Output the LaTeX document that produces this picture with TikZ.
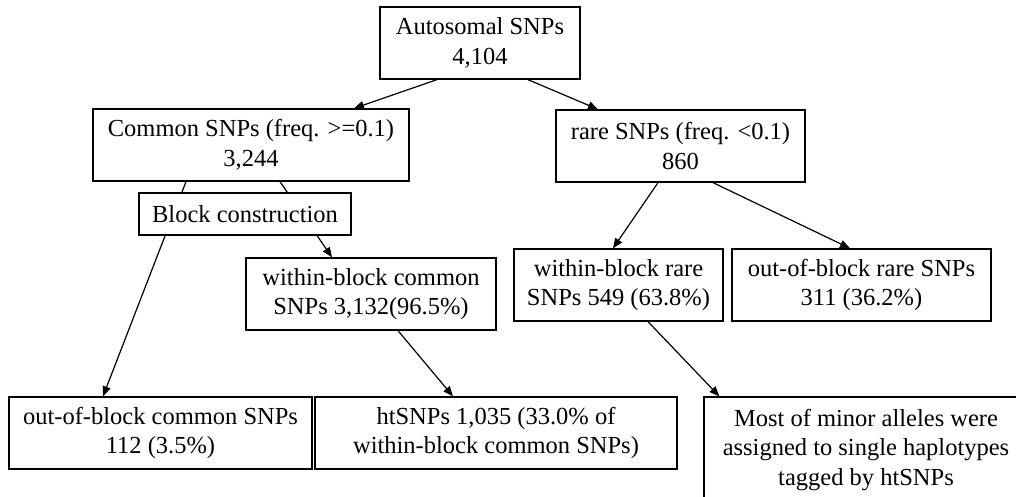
\documentclass[tikz,border=0pt]{standalone}
\usepackage{fontspec}
\setmainfont{Liberation Serif}
\usetikzlibrary{arrows.meta,calc}
\begin{document}
\begin{tikzpicture}[x=1pt,y=-1pt,
  box/.style={draw, line width=1.3pt, fill=white, align=center, inner sep=0pt,
    font=\fontsize{24.5}{29.5}\selectfont},
  link/.style={line width=1.2pt, -{Triangle[length=10pt,width=8pt]}}]
\useasboundingbox (0,0) rectangle (1016,497);

% top level
\node[box, minimum width=200pt, minimum height=72pt] (auto) at (480,43) {Autosomal SNPs\\4,104};
\node[box, minimum width=316pt, minimum height=72pt] (common) at (251,145) {Common SNPs (freq. >=0.1)\\3,244};
\node[box, minimum width=249pt, minimum height=72pt] (rare) at (680.5,146) {rare SNPs (freq. <0.1)\\860};

% second level
\node[box, minimum width=250pt, minimum height=72pt] (wbc) at (371,294) {within-block common\\SNPs 3,132(96.5\%)};
\node[box, minimum width=209pt, minimum height=72pt] (wbr) at (618.5,285) {within-block rare\\SNPs 549 (63.8\%)};
\node[box, minimum width=259pt, minimum height=72pt] (obr) at (861.5,285) {out-of-block rare SNPs\\311 (36.2\%)};

% bottom level
\node[box, minimum width=303pt, minimum height=72pt] (obc) at (160.5,433) {out-of-block common SNPs\\112 (3.5\%)};
\node[box, minimum width=362pt, minimum height=72pt] (hts) at (496,433) {htSNPs 1,035 (33.0\% of\\within-block common SNPs)};
\begin{scope}
  \clip (0,0) rectangle (1016,497);
  \node[box, minimum width=324pt, minimum height=106pt] (most) at (866,450)
    {Most of minor alleles were\\assigned to single haplotypes\\tagged by htSNPs};
\end{scope}

% connectors
\draw[link] ([xshift=-43pt]auto.south) -- ([xshift=103pt]common.north);
\draw[link] ([xshift=48pt]auto.south) -- ([xshift=-82.5pt]rare.north);
\draw[link] ([xshift=-65pt]common.south) -- ([xshift=-57.5pt]obc.north);
\draw[link] ([xshift=29pt]common.south) -- ([xshift=-39pt]wbc.north);
\draw[link] ([xshift=-22.5pt]rare.south) -- ([xshift=-5.5pt]wbr.north);
\draw[link] ([xshift=32.5pt]rare.south) -- ([xshift=-11.5pt]obr.north);
\draw[link] ([xshift=27pt]wbc.south) -- ([xshift=-43pt]hts.north);
\draw[link] ([xshift=29.5pt]wbr.south) -- ([xshift=16pt]most.north west);

% block construction step sits over the two lines leaving the common box
\node[box, minimum width=212pt, minimum height=42pt] (block) at (245,214) {Block construction};
\end{tikzpicture}
\end{document}
